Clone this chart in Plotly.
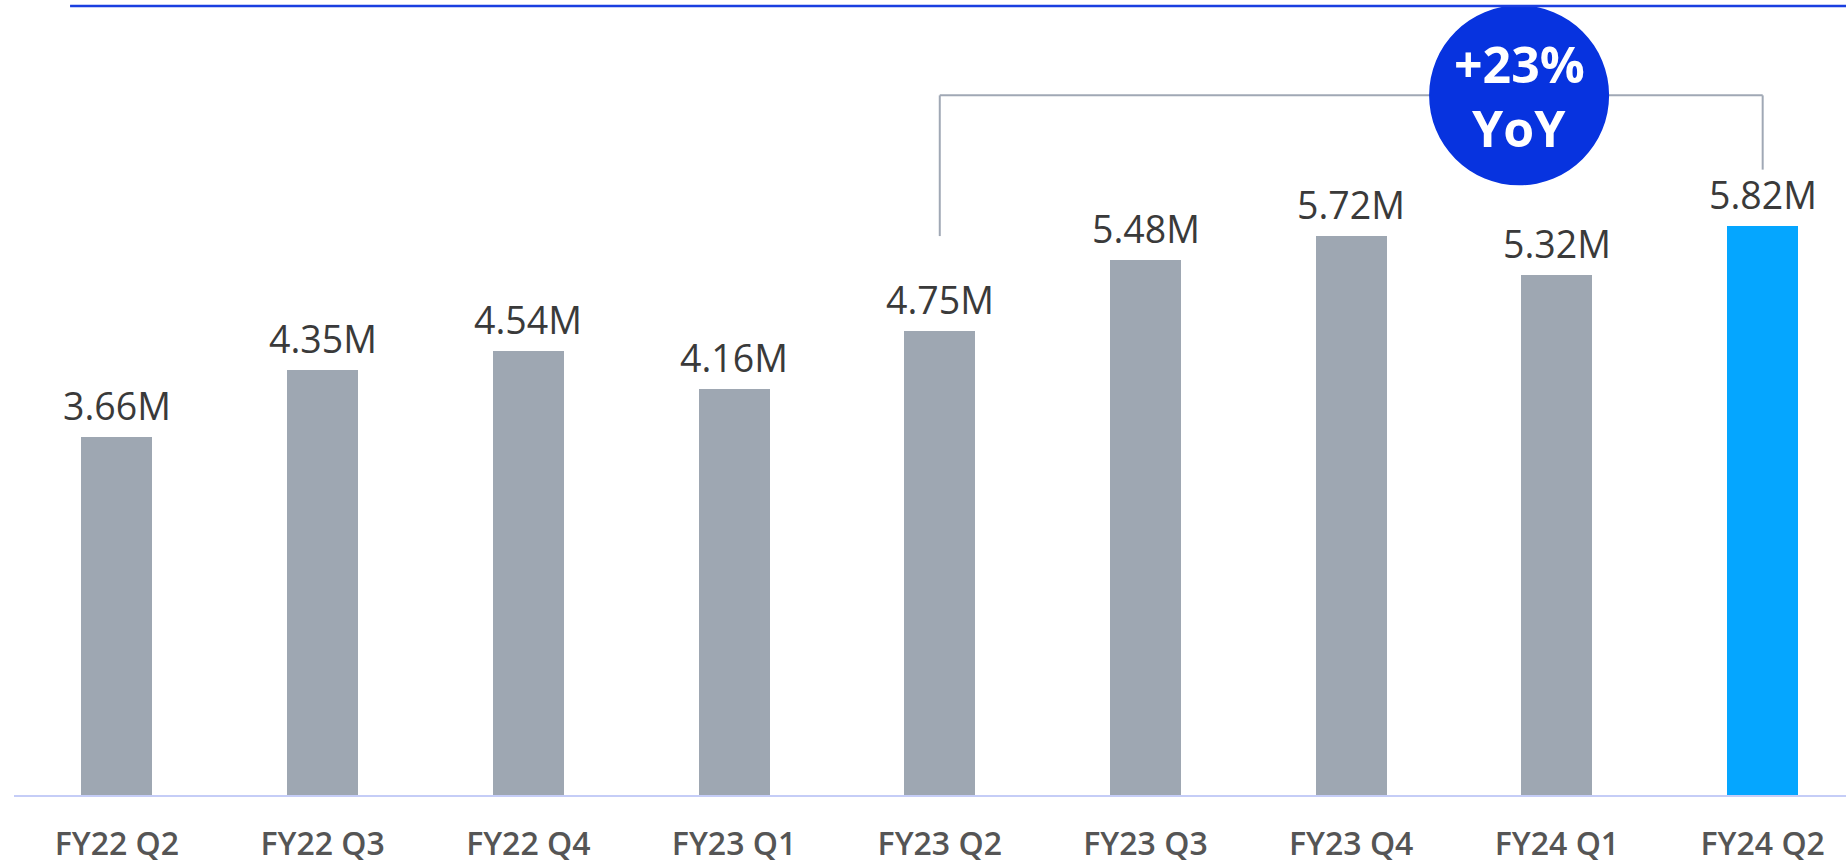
import plotly.graph_objects as go

categories = ["FY22 Q2", "FY22 Q3", "FY22 Q4", "FY23 Q1", "FY23 Q2",
              "FY23 Q3", "FY23 Q4", "FY24 Q1", "FY24 Q2"]
values = [3.66, 4.35, 4.54, 4.16, 4.75, 5.48, 5.72, 5.32, 5.82]
value_labels = ["3.66M", "4.35M", "4.54M", "4.16M", "4.75M",
                "5.48M", "5.72M", "5.32M", "5.82M"]
yoy_lines = ["+23%", "YoY"]

GRAY = "#9EA7B2"
HIGHLIGHT = "#05A6FF"
BLUE = "#0733DF"
FONT = "Open Sans"

colors = [GRAY] * (len(values) - 1) + [HIGHLIGHT]

fig = go.Figure()
fig.add_trace(go.Bar(
    x=categories, y=values, marker=dict(color=colors, line=dict(width=0)),
    width=0.345, hoverinfo="skip", showlegend=False,
))

# value labels
for c, v, t in zip(categories, values, value_labels):
    fig.add_annotation(x=c, y=v, text=t, showarrow=False, yanchor="bottom",
                       yshift=4, font=dict(family=FONT, size=37.5, color="#3A3A3A", weight=500))

# bracket from FY23 Q2 to FY24 Q2
i0, i1 = 4, 8
bracket_y = 7.16
line_style = dict(color="#A0A8B5", width=2)
fig.add_shape(type="line", xref="x", yref="y", x0=categories[i0], x1=categories[i1],
              y0=bracket_y, y1=bracket_y, line=line_style, layer="below")
fig.add_shape(type="line", xref="x", yref="y", x0=categories[i0], x1=categories[i0],
              y0=values[i0] + 0.97, y1=bracket_y, line=line_style, layer="below")
fig.add_shape(type="line", xref="x", yref="y", x0=categories[i1], x1=categories[i1],
              y0=values[i1] + 0.58, y1=bracket_y, line=line_style, layer="below")

# YoY circle
cx, cy = 6.816, bracket_y
fig.add_shape(type="circle", xref="x", yref="y", xsizemode="pixel", ysizemode="pixel",
              xanchor=cx, yanchor=cy, x0=-90, x1=90, y0=-90, y1=90,
              fillcolor=BLUE, line=dict(width=0))
fig.add_annotation(x=cx, y=cy, text=f"<b>{yoy_lines[0]}</b>", showarrow=False,
                   yshift=31, font=dict(family=FONT, size=50, color="white"))
fig.add_annotation(x=cx, y=cy, text=f"<b>{yoy_lines[1]}</b>", showarrow=False,
                   yshift=-33, font=dict(family=FONT, size=50, color="white"))

# top blue rule
fig.add_shape(type="line", xref="paper", yref="paper", x0=0.0306, x1=1.01,
              y0=0.9925, y1=0.9925, line=dict(color="#1A3FE0", width=2.5))

fig.update_layout(
    width=1846, height=864,
    margin=dict(l=14, r=0, t=0, b=63),
    paper_bgcolor="white", plot_bgcolor="white",
    bargap=0,
    xaxis=dict(range=[-0.5, 8.405], showgrid=False, zeroline=False,
               showline=True, linecolor="#C5CDF7", linewidth=2,
               ticks="", ticklabelstandoff=20,
               tickfont=dict(family=FONT, size=32, color="#555555", weight=600),
               fixedrange=True),
    yaxis=dict(range=[0, 8.136], visible=False, fixedrange=True),
    font=dict(family=FONT),
)

fig.write_html("out.html", config={"displayModeBar": False},
               post_script="document.body.style.margin='0';document.body.style.overflow='hidden';")
